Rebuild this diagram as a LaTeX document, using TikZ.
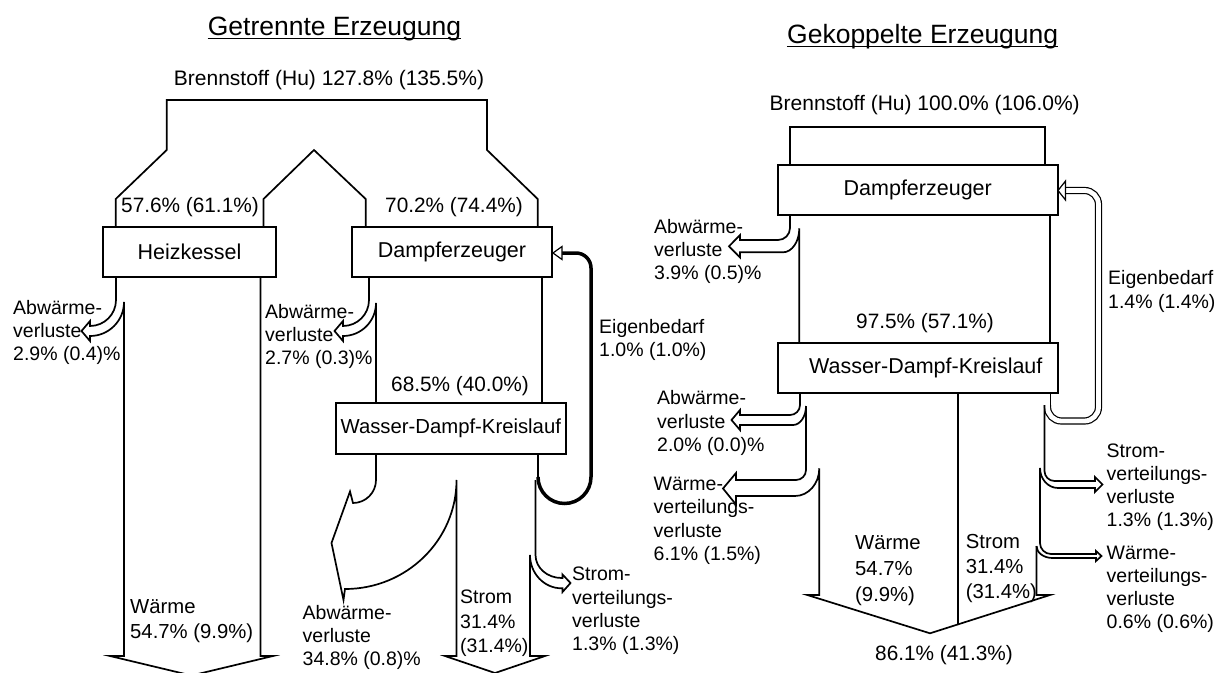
\documentclass[tikz,border=0pt]{standalone}
\usepackage{fontspec}
\setmainfont{Liberation Sans}
\usetikzlibrary{calc}
\newcommand{\titelfont}{\fontsize{26.5}{30}\selectfont}
\newcommand{\kastenfont}{\fontsize{21.5}{25}\selectfont}
\newcommand{\wertfont}{\fontsize{20.8}{24}\selectfont}
\newcommand{\seitefont}{\fontsize{19.5}{23.2}\selectfont}
\tikzstyle{flow}=[line width=1.7pt]
\tikzstyle{kasten}=[draw, fill=white, line width=2pt, inner sep=0pt, font=\kastenfont]
\tikzstyle{wert}=[inner sep=0pt, font=\wertfont]
\tikzstyle{seite}=[inner sep=0pt, font=\seitefont, align=left, anchor=north west]
\tikzstyle{titel}=[inner sep=0pt, font=\titelfont, anchor=base]
\tikzstyle{kopf}=[fill=white, line width=1.2pt]

\begin{document}
\begin{tikzpicture}[x=1pt, y=1pt, yscale=-1]
\useasboundingbox (0,0) rectangle (1218,672);
% Getrennte Erzeugung
\node[titel] (titelL) at (334.5,35) {Getrennte Erzeugung};
\draw[line width=1.6pt] ($(titelL.base west)+(0,3.5)$) -- ($(titelL.base east)+(0,3.5)$);
\node[wert, font=\fontsize{21}{25}\selectfont] (brennL) at (329,80) {Brennstoff (Hu) 127.8\% (135.5\%)};
\draw[flow] (115.7,227) -- (115.7,199) -- (166.7,150) -- (166.7,100) -- (487,100) -- (487,150) -- (537.7,199) -- (537.7,227);
\draw[flow] (263.5,227) -- (263.5,199) -- (314,150) -- (365.7,199) -- (365.7,227);
\node[wert] (pctHK) at (190,206.7) {57.6\% (61.1\%)};
\node[wert] (pctDE) at (454,206.7) {70.2\% (74.4\%)};
% Heizkessel
\draw[flow] (116,277) -- (116,300) arc[start angle=0,end angle=90,radius=26] -- (90,321) -- (81.5,331) -- (90,341) -- (90,336) arc[start angle=90,end angle=0,radius=34] -- (124,656) -- (110,656) -- (191.5,675.5) -- (273,656) -- (260.5,656) -- (260.5,277);
% Dampferzeuger
\draw[flow] (369,277) -- (369,300) arc[start angle=0,end angle=90,radius=26] -- (343,321) -- (334.5,331) -- (343,341) -- (343,336) arc[start angle=90,end angle=0,radius=33] -- (376,403);
\draw[flow] (541.7,277) -- (541.7,403);
\node[wert] (pctWDK) at (460,386) {68.5\% (40.0\%)};
% Wasser-Dampf-Kreislauf
\draw[flow] (376,454) -- (376,480) arc[start angle=0,end angle=90,radius=23] -- (350,491.5) -- (331.5,543) -- (343.5,600) -- (345,589) arc[start angle=90,end angle=0,x radius=111.5,y radius=109] -- (456.5,656) -- (445,656) -- (495,673) -- (545,656) -- (530,656) -- (530,555) arc[start angle=180,end angle=90,x radius=31.5,y radius=33.3] -- (562.5,588.3) -- (562.5,592) -- (570.5,583) -- (562.5,574.5) -- (562.5,578) -- (561.5,578) arc[start angle=90,end angle=180,x radius=26,y radius=23] -- (535.5,480);
\draw[flow] (538,454) -- (538,478);
\draw[line width=3.5pt] (538,477) arc[start angle=180,end angle=0,radius=26.5] -- (591,268) arc[start angle=0,end angle=-90,radius=15] -- (562,253);
\draw[kopf] (553,253) -- (562,246.5) -- (562,259.5) -- cycle;
\node[kasten, minimum width=173pt, minimum height=50pt] (heiz) at (189.5,252) {Heizkessel};
\node[kasten, minimum width=199.4pt, minimum height=50pt] (dampfL) at (452,252) {Dampferzeuger};
\node[kasten, font=\fontsize{20.3}{24}\selectfont, minimum width=229.7pt, minimum height=51pt] (wdkL) at (450.8,428.5) {Wasser-Dampf-Kreislauf};
\node[seite] (abwHK) at (13,300) {Abwärme-\\verluste\\2.9\% (0.4)\%};
\node[seite] (abwDE) at (265,304) {Abwärme-\\verluste\\2.7\% (0.3)\%};
\node[seite] (eigL) at (599,319) {Eigenbedarf\\1.0\% (1.0\%)};
\node[seite, font=\fontsize{20.3}{25}\selectfont] (waermeL) at (130,599) {Wärme\\54.7\% (9.9\%)};
\node[seite] (abwWDK) at (302.5,605) {Abwärme-\\verluste\\34.8\% (0.8)\%};
\node[seite, font=\fontsize{19.5}{24.5}\selectfont] (stromL) at (460,590) {Strom\\31.4\%\\(31.4\%)};
\node[seite] (svL) at (572,567) {Strom-\\verteilungs-\\verluste\\1.3\% (1.3\%)};
% Gekoppelte Erzeugung
\node[titel] (titelR) at (922.7,43) {Gekoppelte Erzeugung};
\draw[line width=1.6pt] ($(titelR.base west)+(0,3.5)$) -- ($(titelR.base east)+(0,3.5)$);
\node[wert, font=\fontsize{21}{25}\selectfont] (brennR) at (924.7,105) {Brennstoff (Hu) 100.0\% (106.0\%)};
\draw[flow] (790,165) -- (790,127.3) -- (1045,127.3) -- (1045,165);
\draw[flow] (790,215) -- (790,228) arc[start angle=0,end angle=90,radius=12] -- (740,240) -- (740,235) -- (729,246.3) -- (740,257.5) -- (740,252.3) -- (783,252.3) arc[start angle=90,end angle=0,x radius=16.3,y radius=24] -- (799.3,343);
\draw[flow] (1050,215) -- (1050,343);
\node[wert] (pctWDKR) at (925,323.3) {97.5\% (57.1\%)};
\draw[double=white, double distance=4.8pt, line width=1.2pt, rounded corners=14pt] (1047.5,405) -- (1047.5,421) -- (1098.5,421) -- (1098.5,190.5) -- (1065,190.5);
\draw[kopf] (1058,190.5) -- (1065.5,181) -- (1065.5,200) -- cycle;
\draw[flow] (1050.5,392.5) -- (1050.5,406);
\draw[flow] (800,392.5) -- (800,405) arc[start angle=0,end angle=90,radius=10] -- (740,415) -- (740,410) -- (731.5,420) -- (740,430) -- (740,425) -- (793,425) arc[start angle=90,end angle=0,x radius=13,y radius=19];
\draw[flow] (806,406) -- (806,470) arc[start angle=0,end angle=90,radius=10] -- (736,480) -- (736,473) -- (723,488.5) -- (736,504.5) -- (736,496) -- (795,496) arc[start angle=90,end angle=0,x radius=24.3,y radius=27.7] -- (819.3,595) -- (807.3,595) -- (930,633.3) -- (1050,595) -- (1036.5,595) -- (1036.5,546);
\draw[flow] (957.7,392.5) -- (957.7,624.5);
\draw[flow] (1044.5,405) -- (1044.5,471) arc[start angle=180,end angle=90,radius=10] -- (1095,481) -- (1095,477) -- (1102.5,484.5) -- (1095,492) -- (1095,488) -- (1058,488) arc[start angle=90,end angle=180,x radius=18,y radius=20] -- (1040,543) arc[start angle=180,end angle=90,radius=11] -- (1096,554) -- (1096,551) -- (1101.5,556) -- (1096,561) -- (1096,558) -- (1052.5,558) arc[start angle=90,end angle=180,x radius=16,y radius=12];
\node[kasten, minimum width=280.5pt, minimum height=50pt] (dampfR) at (917.75,190) {Dampferzeuger};
\node[kasten, minimum width=280.5pt, minimum height=49.5pt] (wdkR) at (917.75,367.75) {\hspace*{16pt}Wasser-Dampf-Kreislauf};
\node[seite] (abwDER) at (654,219) {Abwärme-\\verluste\\3.9\% (0.5)\%};
\node[seite] (abwWDKR) at (657,390.5) {Abwärme-\\verluste\\2.0\% (0.0)\%};
\node[seite] (wvLinks) at (653.5,477) {Wärme-\\verteilungs-\\verluste\\6.1\% (1.5\%)};
\node[seite] (eigR) at (1108,270.5) {Eigenbedarf\\1.4\% (1.4\%)};
\node[seite] (svR) at (1106.5,443.5) {Strom-\\verteilungs-\\verluste\\1.3\% (1.3\%)};
\node[seite] (wvRechts) at (1106.5,545.5) {Wärme-\\verteilungs-\\verluste\\0.6\% (0.6\%)};
\node[seite, font=\fontsize{20.3}{25.8}\selectfont] (waermeR) at (855,535.5) {Wärme\\54.7\%\\(9.9\%)};
\node[seite, font=\fontsize{20.3}{25}\selectfont] (stromR) at (965.7,534) {Strom\\31.4\%\\(31.4\%)};
\node[wert] (summeR) at (944,655) {86.1\% (41.3\%)};
\end{tikzpicture}
\end{document}
